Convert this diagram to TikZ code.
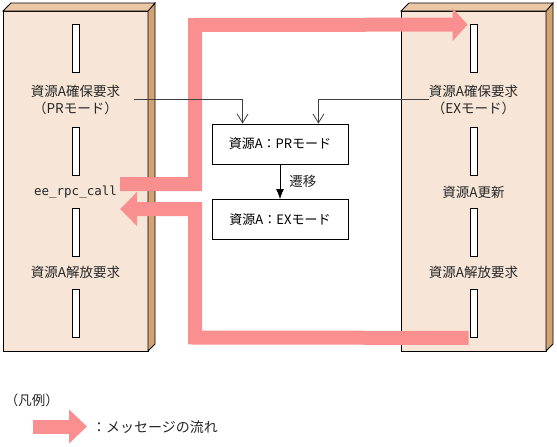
\documentclass[tikz,border=0pt]{standalone}
\usepackage{fontspec}
\setmainfont{Noto Sans CJK JP}
\newfontfamily\monofont{DejaVu Sans Mono}
\usepackage{xcolor}
\usepackage{tikz}
\usetikzlibrary{arrows.meta,positioning,calc}

\definecolor{pillarfront}{RGB}{247,230,215}
\definecolor{pillarside}{RGB}{212,163,115}
\definecolor{pillartop}{RGB}{235,200,165}
\definecolor{msgpink}{RGB}{249,143,143}

\begin{document}
\begin{tikzpicture}[x=1pt,y=-1pt,
    lbl/.style={font=\fontsize{13.5}{17}\selectfont, text=black!85, align=center, inner sep=0},
    slot/.style={draw, fill=white, line width=0.8pt, minimum width=7pt, minimum height=48pt, inner sep=0},
    modebox/.style={draw, line width=0.8pt, minimum width=136pt, minimum height=40pt, inner sep=0, font=\fontsize{13}{17}\selectfont},
    msg/.style={draw=msgpink, line width=14pt, line join=miter},
    thin/.style={draw=black!75, line width=0.8pt}]
    \useasboundingbox (0,0) rectangle (557,447);

    % Pillars
    \foreach \px/\nm in {0/l, 398/r} {
        \draw[line width=0.8pt, fill=pillarfront] (3+\px,11) rectangle (148+\px,351);
        \draw[line width=0.8pt, fill=pillarside] (148+\px,11) -- (155+\px,3) -- (155+\px,344) -- (148+\px,351) -- cycle;
        \draw[line width=0.8pt, fill=pillartop] (3+\px,11) -- (11+\px,3) -- (155+\px,3) -- (148+\px,11) -- cycle;
        \foreach \y [count=\i] in {24, 127, 208, 289} {
            \node[slot] (\nm slot\i) at (75.5+\px, \y+24) {};
        }
    }

    % Labels
    \node[lbl] (lreq) at (75.5, 99.5) {資源A確保要求\\（PRモード）};
    \node[lbl, font=\monofont\fontsize{12.5}{14}\selectfont] (lcall) at (75.5, 192) {ee\_rpc\_call};
    \node[lbl] (lrel) at (75.5, 272) {資源A解放要求};
    \node[lbl] (rreq) at (473.5, 99.5) {資源A確保要求\\（EXモード）};
    \node[lbl] (rupd) at (473.5, 192) {資源A更新};
    \node[lbl] (rrel) at (473.5, 272) {資源A解放要求};

    % Modes
    \node[modebox] (prmode) at (280, 144) {資源A：PRモード};
    \node[modebox] (exmode) at (280, 219.5) {資源A：EXモード};
    \draw[thin, draw=black, -{Latex[length=10pt,width=8pt]}] (prmode) -- node[lbl, right=9pt] (shift) {遷移} (exmode);

    % Messages
    \coordinate (callout) at (120, 184);
    \coordinate (acqin) at ($(rslot1.north west)+(-2,1)$);
    \coordinate (relout) at ($(rslot4.south west)+(-1,0.5)$);
    \coordinate (callback) at (120, 209);
    \draw[msg, -{Triangle[length=15pt,width=32pt]}] (callout) -- (195,184) -- (195,25) -- (acqin);
    \draw[msg, -{Triangle[length=17pt,width=33pt]}] (relout) -- (195,337.5) -- (195,209) -- (callback);

    % Requests
    \coordinate (lfrom) at ($(lreq.east)+(14,0)$);
    \draw[thin, -{Straight Barb[length=9pt,width=11pt]}] (lfrom) -| ($(prmode.north west)+(31,0)$);
    \draw[thin, -{Straight Barb[length=9pt,width=11pt]}] (rreq.west) -| ($(prmode.north east)+(-30,0)$);

    % Legend
    \node[lbl] (legend) at (32, 400) {（凡例）};
    \coordinate (keyfrom) at (33, 426.5);
    \coordinate (keyto) at (87, 426.5);
    \draw[msg, -{Triangle[length=18pt,width=33pt]}] (keyfrom) -- (keyto);
    \node[lbl, anchor=west, font=\fontsize{14}{17}\selectfont] (keytext) at (92, 427) {：メッセージの流れ};
\end{tikzpicture}
\end{document}
